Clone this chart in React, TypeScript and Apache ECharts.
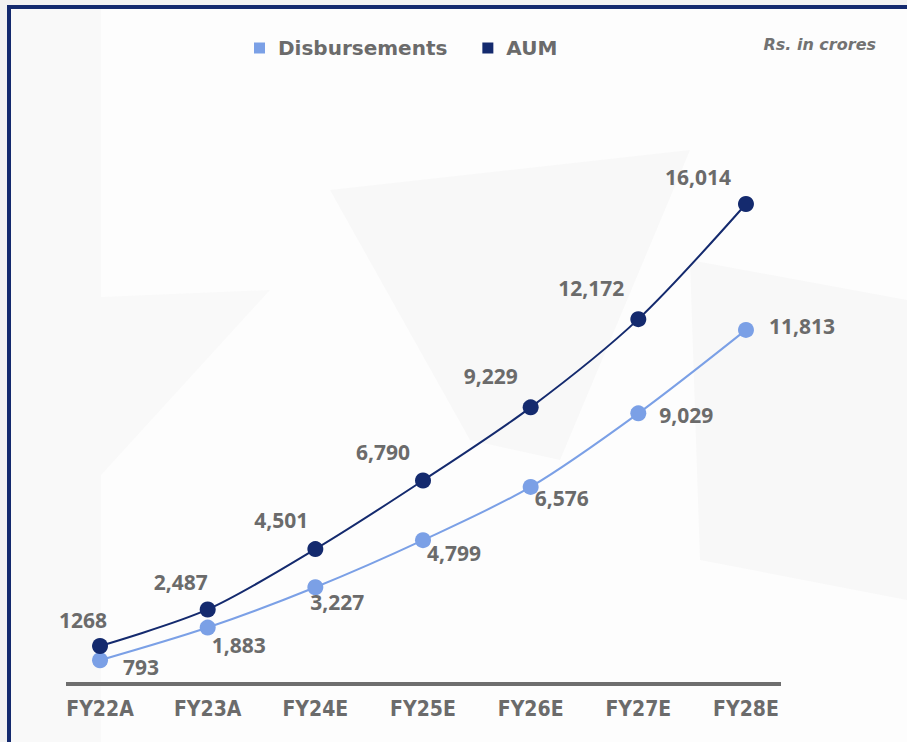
import React, { useEffect, useRef } from "react";
import * as echarts from "echarts";

const categories = ["FY22A", "FY23A", "FY24E", "FY25E", "FY26E", "FY27E", "FY28E"];
const disbursements = [793, 1883, 3227, 4799, 6576, 9029, 11813];
const aum = [1268, 2487, 4501, 6790, 9229, 12172, 16014];
const aumLabels = ["1268", "2,487", "4,501", "6,790", "9,229", "12,172", "16,014"];
const disbLabels = ["793", "1,883", "3,227", "4,799", "6,576", "9,029", "11,813"];
const aumLabelOffsets = [[-17, -26], [-27, -27], [-34, -29], [-40, -28], [-40, -31], [-47, -31], [-48, -27]];
const disbLabelOffsets = [[41, 7], [31, 17], [22, 15], [31, 13], [31, 11], [48, 2], [56, -4]];

const NAVY = "#142a6e";
const LIGHT = "#7ba0e6";
const GREY = "#6b6b6b";

export default function App() {
  const ref = useRef<HTMLDivElement>(null);
  useEffect(() => {
    document.body.style.margin = "0";
    const chart = echarts.init(ref.current!, null, { renderer: "svg" });
    const labelFont = { fontFamily: "Noto Sans", fontWeight: "bold", fontSize: 21, color: GREY };
    chart.setOption({
      animation: false,
      backgroundColor: "#fdfdfd",
      title: {
        text: "Rs. in crores",
        right: 26,
        top: 31,
        textStyle: { fontFamily: "DejaVu Sans", fontStyle: "italic", fontWeight: "bold", fontSize: 16, color: "#727272" },
      },
      legend: {
        left: 249,
        top: 33,
        icon: "rect",
        itemWidth: 11,
        itemHeight: 11,
        itemGap: 35,
        textStyle: { fontFamily: "DejaVu Sans", fontWeight: "bold", fontSize: 20, color: GREY, padding: [0, 0, 0, 8] },
        data: ["Disbursements", "AUM"],
      },
      grid: { left: 46.2, right: 107.2, top: 84.5, bottom: 58 },
      xAxis: {
        type: "category",
        data: categories,
        boundaryGap: true,
        axisLine: { show: false },
        axisTick: { show: false },
        axisLabel: {
          margin: 14,
          fontFamily: "DejaVu Sans Condensed",
          fontWeight: "bold",
          fontSize: 21,
          color: GREY,
        },
      },
      yAxis: { type: "value", min: 0, max: 20000, show: false, splitLine: { show: false } },
      graphic: [
        { type: "polygon", z: -10, shape: { points: [[330, 190], [690, 150], [560, 460], [470, 440]] }, style: { fill: "#f8f8f8" }, silent: true },
        { type: "polygon", z: -10, shape: { points: [[690, 260], [907, 300], [907, 600], [700, 560]] }, style: { fill: "#f8f8f8" }, silent: true },
        { type: "polygon", z: -10, shape: { points: [[30, 300], [270, 290], [60, 520]] }, style: { fill: "#f9f9f9" }, silent: true },
        { type: "rect", z: -10, shape: { x: 11, y: 9, width: 90, height: 733 }, style: { fill: "#f9f9f9" }, silent: true },
        { type: "rect", z: 100, shape: { x: 0, y: 0, width: 907, height: 5 }, style: { fill: "#f2f2f2" }, silent: true },
        { type: "rect", z: 100, shape: { x: 0, y: 0, width: 7, height: 742 }, style: { fill: "#f2f2f2" }, silent: true },
        { type: "rect", z: 100, shape: { x: 7, y: 5, width: 900, height: 4 }, style: { fill: NAVY }, silent: true },
        { type: "rect", z: 100, shape: { x: 7, y: 5, width: 4, height: 737 }, style: { fill: NAVY }, silent: true },
        { type: "line", z: 50, shape: { x1: 66, y1: 684, x2: 781, y2: 684 }, style: { stroke: "#6e6e6e", lineWidth: 4 }, silent: true },
      ],
      series: [
        {
          name: "Disbursements",
          type: "line",
          smooth: 0.3,
          data: disbursements.map((v, i) => ({
            value: v,
            label: { formatter: disbLabels[i], offset: disbLabelOffsets[i] },
          })),
          symbol: "circle",
          symbolSize: 16,
          itemStyle: { color: LIGHT },
          lineStyle: { color: LIGHT, width: 2 },
          label: { show: true, position: "inside", ...labelFont },
          z: 3,
        },
        {
          name: "AUM",
          type: "line",
          smooth: 0.3,
          data: aum.map((v, i) => ({
            value: v,
            label: { formatter: aumLabels[i], offset: aumLabelOffsets[i] },
          })),
          symbol: "circle",
          symbolSize: 16,
          itemStyle: { color: NAVY },
          lineStyle: { color: NAVY, width: 2 },
          label: { show: true, position: "inside", ...labelFont },
          z: 4,
        },
      ],
    });
    return () => chart.dispose();
  }, []);
  return <div ref={ref} style={{ position: "absolute", left: 0, top: 0, width: 907, height: 742 }} />;
}
